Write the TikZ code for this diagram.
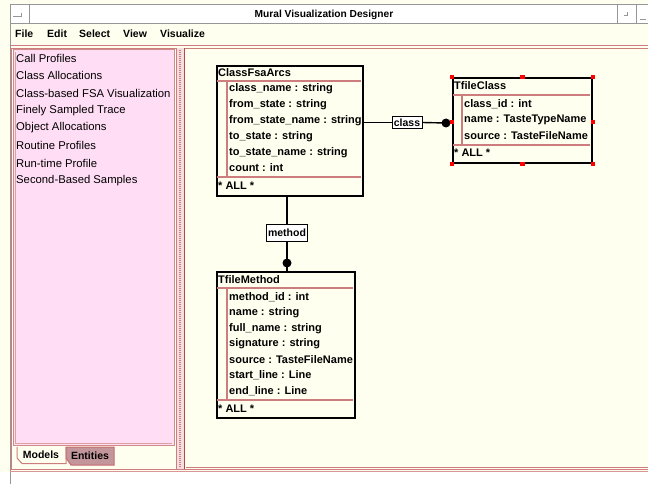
\documentclass[tikz,border=0pt]{standalone}
\usepackage{fontspec}
\setmainfont{Liberation Sans}
\usetikzlibrary{calc}
\definecolor{ivory}{RGB}{255,255,240}
\definecolor{listpink}{RGB}{255,222,245}
\definecolor{rose}{RGB}{205,125,125}
\definecolor{darkrose}{RGB}{185,70,70}
\definecolor{tabmauve}{RGB}{195,150,155}
\definecolor{framegray}{RGB}{150,150,150}
\tikzstyle{every node}=[font=\fontsize{11}{13}\selectfont\bfseries]
\tikzstyle{entity}=[draw=black,line width=1.8pt,fill=ivory,inner sep=0pt,anchor=north west]
\tikzstyle{sep}=[rose,line width=1.2pt]
\tikzstyle{field}=[anchor=west,inner sep=0pt]
\tikzstyle{link}=[black,line width=1.4pt]
\tikzstyle{role}=[draw=black,fill=white,line width=0.8pt,inner sep=0pt,font=\fontsize{10.5}{12}\selectfont\bfseries]
\tikzstyle{joint}=[circle,fill=black,minimum size=9pt,inner sep=0pt]
\tikzstyle{handle}=[fill=red,minimum size=4.5pt,inner sep=0pt]
\tikzstyle{listitem}=[anchor=west,inner sep=0pt,font=\fontsize{11.3}{13}\selectfont]
\tikzstyle{menuitem}=[anchor=west,inner sep=0pt,font=\fontsize{10.5}{12}\selectfont\bfseries]

\begin{document}
\begin{tikzpicture}[x=1pt,y=-1pt]
    \useasboundingbox (0,0) rectangle (648,484);
    % window background
    \fill[ivory] (0,0) rectangle (648,484);
    \fill[white] (0,472) rectangle (648,484);

    % title bar
    \fill[white] (10,5) rectangle (648,24);
    \draw[framegray,line width=1pt]
    (10,5) -- (648,5)
    (10,24) -- (648,24)
    (10,5) -- (10,484)
    (29,5) -- (29,24)
    (617,5) -- (617,24)
    (636,5) -- (636,24)
    (13,17) -- (21,17) -- (21,13)
    (624,16) -- (627,16) -- (627,12)
    (640,20) -- (646,20);
    \node (title) at (324,14.5) {\fontsize{10.2}{12}\selectfont Mural Visualization Designer};

    % menu bar
    \node[menuitem] (mfile) at (15,34) {File};
    \node[menuitem] (medit) at (47,34) {Edit};
    \node[menuitem] (mselect) at (79,34) {Select};
    \node[menuitem] (mview) at (123,34) {View};
    \node[menuitem] (mvis) at (160,34) {Visualize};
    \draw[rose,line width=1pt] (10,46) -- (648,46);
    \draw[darkrose!70,line width=0.8pt] (10,48) -- (648,48);

    % model list (left panel)
    \draw[rose,line width=1pt] (11,48) -- (11,469);
    \draw[rose!90,fill=listpink,line width=1pt] (13.5,50) rectangle (174,445);
    \draw[darkrose!50,line width=0.6pt] (15.5,52) -- (15.5,443) -- (172,443);
    \node[listitem] (l1) at (16,58) {Call Profiles};
    \node[listitem] (l2) at (16,75.5) {Class Allocations};
    \node[listitem] (l3) at (16,93) {Class-based FSA Visualization};
    \node[listitem] (l4) at (16,110.5) {Finely Sampled Trace};
    \node[listitem] (l5) at (16,128) {Object Allocations};
    \node[listitem] (l6) at (16,145.5) {Routine Profiles};
    \node[listitem] (l7) at (16,163) {Run-time Profile};
    \node[listitem] (l8) at (16,180.5) {Second-Based Samples};

    % tabs
    \draw[rose,line width=1pt,fill=ivory]
    (17,447) -- (17,458) -- (22,463.5) -- (66,463.5) -- (66,447);
    \draw[darkrose!80,line width=1pt,fill=tabmauve]
    (66,447) -- (66,458) -- (71,465) -- (114,465) -- (114,447) -- cycle;
    \node (models) at (41,455) {\fontsize{10.5}{12}\selectfont Models};
    \node (entities) at (90,456) {\fontsize{10.5}{12}\selectfont Entities};

    % splitter
    \fill[rose!25] (176.5,48) rectangle (183.5,469);
    \draw[rose,line width=2.5pt,dash pattern=on 1pt off 1pt] (180,50) -- (180,467);
    \draw[rose,line width=0.8pt] (176.5,48) -- (176.5,469);
    \draw[darkrose,line width=1.2pt] (184.5,48) -- (184.5,469);

    % canvas and window bottom
    \draw[rose,line width=1pt] (186,467.5) -- (648,467.5);
    \draw[rose,line width=1pt] (10,469.5) -- (648,469.5);
    \draw[rose!80,line width=1pt] (10,471.5) -- (648,471.5);

    % entity ClassFsaArcs
    \node[entity,minimum width=146pt,minimum height=130pt] (arcs) at (216,65) {};
    \draw[sep] (217,81) -- (361,81) (217,177) -- (361,177) (227,81) -- (227,177);
    \node[field] (arcsname) at (218,73) {ClassFsaArcs};
    \node[field] at (229,89) {class\_name : string};
    \node[field] at (229,104.8) {from\_state : string};
    \node[field] at (229,120.6) {from\_state\_name : string};
    \node[field] at (229,136.4) {to\_state : string};
    \node[field] at (229,152.2) {to\_state\_name : string};
    \node[field] at (229,168) {count : int};
    \node[field] at (218,186) {* ALL *};

    % entity TfileClass (selected)
    \node[entity,minimum width=139pt,minimum height=85pt] (fclass) at (452,77) {};
    \draw[sep] (453,95) -- (590,95) (453,145) -- (590,145) (462,95) -- (462,145);
    \node[field] (fclassname) at (454,86) {TfileClass};
    \node[field] at (464,104) {class\_id : int};
    \node[field] at (464,120) {name : TasteTypeName};
    \node[field] at (464,135.5) {source : TasteFileName};
    \node[field] at (454,153) {* ALL *};

    % entity TfileMethod
    \node[entity,minimum width=138pt,minimum height=146pt] (fmethod) at (216,271) {};
    \draw[sep] (217,288) -- (353,288) (217,400) -- (353,400) (227,288) -- (227,400);
    \node[field] (fmethodname) at (218,279.5) {TfileMethod};
    \node[field] at (229,297) {method\_id : int};
    \node[field] at (229,312.7) {name : string};
    \node[field] at (229,328.4) {full\_name : string};
    \node[field] at (229,344.1) {signature : string};
    \node[field] at (229,359.8) {source : TasteFileName};
    \node[field] at (229,375.5) {start\_line : Line};
    \node[field] at (229,391.2) {end\_line : Line};
    \node[field] at (218,408.5) {* ALL *};

    % relation class
    \node[role,minimum width=30pt,minimum height=12pt] (classlbl) at (407,122.5) {class};
    \node[joint] (classend) at (446,123) {};
    \draw[link] (arcs.east |- classlbl) -- (classlbl.west);
    \draw[link] (classlbl.east) -- (classend.center) -- (fclass.west |- classend);

    % relation method
    \node[role,minimum width=41pt,minimum height=17pt] (methodlbl) at (287,232.5) {method};
    \node[joint] (methodend) at (287,263) {};
    \draw[link] (arcs.south -| methodlbl) -- (methodlbl.north);
    \draw[link] (methodlbl.south) -- (methodend.center) -- (fmethod.north -| methodend);

    % selection handles
    \path
    (fclass.north west) node[handle] {}
    (fclass.north) node[handle] {}
    (fclass.north east) node[handle] {}
    ($(fclass.west)+(0,1.5)$) node[handle] {}
    ($(fclass.east)+(0,1.5)$) node[handle] {}
    (fclass.south west) node[handle] {}
    (fclass.south) node[handle] {}
    (fclass.south east) node[handle] {};
\end{tikzpicture}
\end{document}
